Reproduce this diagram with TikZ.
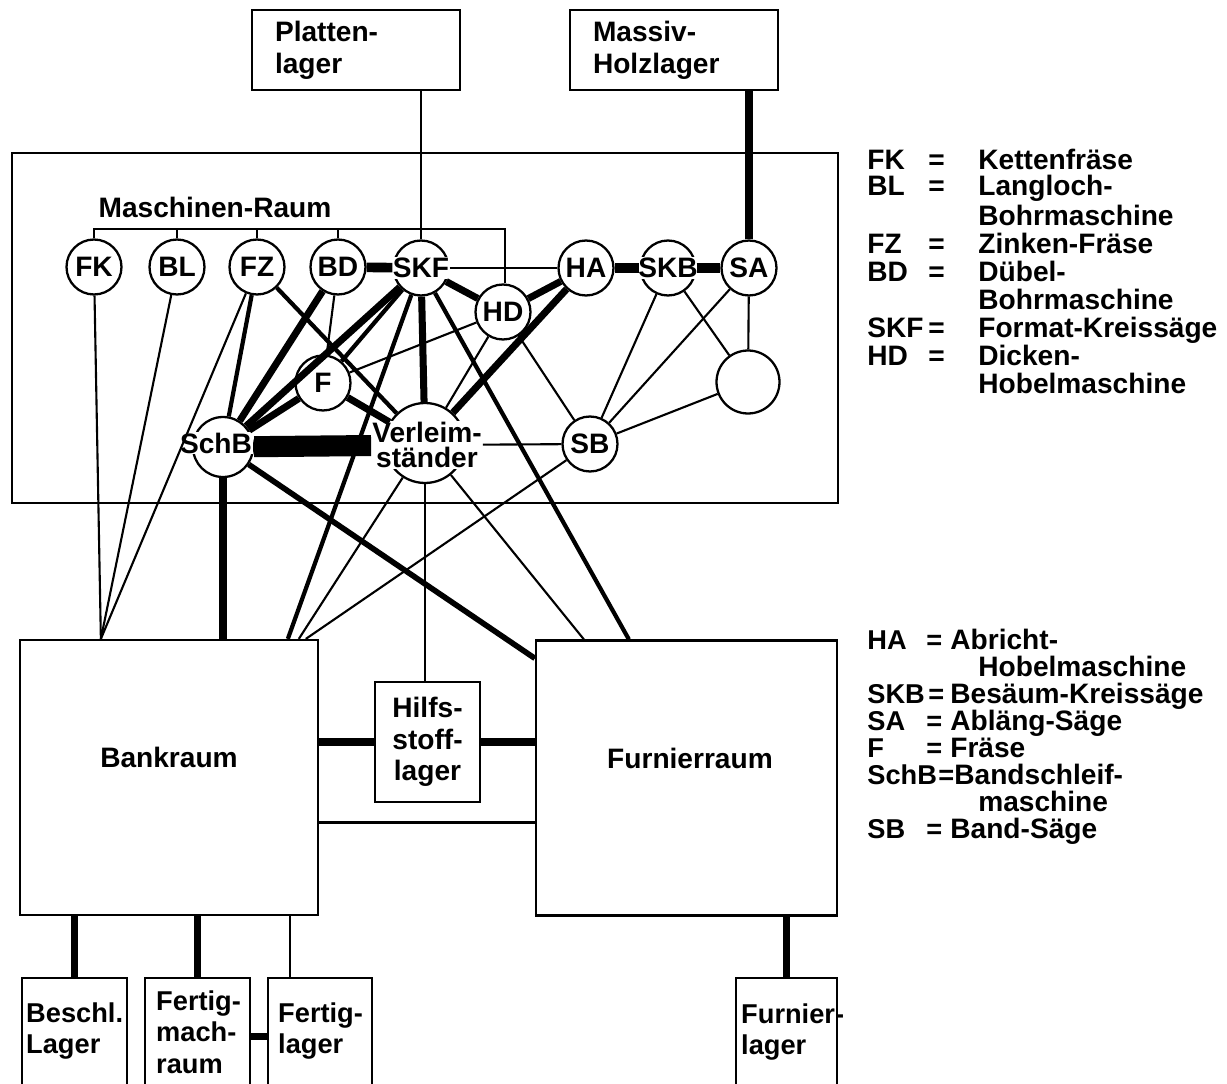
\documentclass[tikz,border=0pt]{standalone}
\usepackage{fontspec}
\setmainfont{Liberation Sans}

\tikzset{
  every node/.style={font=\fontsize{16}{18}\selectfont\bfseries},
  mach/.style={circle, draw, line width=1.3pt, fill=white, minimum size=1.1cm, inner sep=0pt},
  raum/.style={draw, line width=1.3pt, inner sep=0pt},
  tag/.style={fill=white, inner sep=0.5pt},
  boxtxt/.style={anchor=north west, align=left, inner ysep=0.5cm, font=\fontsize{15.5}{18}\selectfont\bfseries},
  lgd/.style={anchor=west, inner sep=0pt, text height=11pt, text depth=3pt},
  lgda/.style={lgd, font=\fontsize{15.5}{18}\selectfont\bfseries},
  dn/.style={line width=1.2pt},
  md/.style={line width=2.4pt},
  dk/.style={line width=4pt},
  balken/.style={line width=5.5pt},
}

\begin{document}
\begin{tikzpicture}[x=0.02cm, y=-0.02cm]
\useasboundingbox (0,0) rectangle (1227,1084);
%
\node[raum, minimum height=1.6cm, text width=3.24cm, inner xsep=0.46cm, align=left] (Platten) at (356,50) {Platten-\\lager};
\node[raum, minimum height=1.6cm, text width=3.24cm, inner xsep=0.46cm, align=left] (Massiv) at (674,50) {Massiv-\\Holzlager};
%
\node[raum, minimum width=16.52cm, minimum height=7cm] (MRaum) at (425,328) {};
\node (MRtitel) at (215,207) {Maschinen-Raum};
%
\node[mach] (FK) at (94,267) {FK};
\node[mach] (BL) at (177,267) {BL};
\node[mach] (FZ) at (257,267) {FZ};
\node[mach] (BD) at (338,267) {BD};
\node[mach, label={[tag]center:SKF}] (SKF) at (421,268) {};
\node[mach] (HA) at (586,268) {HA};
\node[mach, label={[tag]center:SKB}] (SKB) at (668,268) {};
\node[mach] (SA) at (749,268) {SA};
\node[mach] (HD) at (503,312) {HD};
\node[mach] (F) at (323,383) {F};
\node[mach] (SB) at (590,444) {SB};
\node[mach, minimum size=1.26cm] (leer) at (748,382) {};
\node[mach, minimum size=1.2cm] (SchB) at (223,447) {};
\node[tag] (SchBtxt) at (216,443) {SchB};
\node[mach, minimum size=1.6cm] (VL) at (425,443) {};
\node[tag, align=center, font=\fontsize{16}{14.7}\selectfont\bfseries] (VLtxt) at (427,445) {Verleim-\\ständer};
%
\node[raum, minimum width=5.96cm, minimum height=5.5cm, label={[yshift=0.4cm]center:Bankraum}] (Bankraum) at (169,777.5) {};
\node[raum, minimum width=6.02cm, minimum height=5.5cm, label={[yshift=0.4cm, xshift=0.07cm]center:Furnierraum}] (Furnierraum) at (686.5,778) {};
\node[raum, minimum width=2.1cm, minimum height=2.4cm, align=center] (Hilfs) at (427.5,742) {Hilfs-\\stoff-\\lager};
%
\node[raum, anchor=north, minimum width=2.1cm, minimum height=2.6cm, label={[boxtxt, inner xsep=0.1cm]north west:Beschl.\\Lager}] (Beschl) at (74.5,977) {};
\node[raum, anchor=north, minimum width=2.1cm, minimum height=2.6cm, label={[boxtxt, inner xsep=0.24cm, inner ysep=0.26cm]north west:Fertig-\\mach-\\raum}] (Fertigmach) at (197.5,977) {};
\node[raum, anchor=north, minimum width=2.08cm, minimum height=2.6cm, label={[boxtxt, inner xsep=0.22cm]north west:Fertig-\\lager}] (Fertiglager) at (320,977) {};
\node[raum, anchor=north, minimum width=2.02cm, minimum height=2.6cm, label={[boxtxt, inner xsep=0.12cm, inner ysep=0.52cm]north west:Furnier-\\lager}] (Furnierlager) at (786.5,977) {};
%
% Lager -> Maschinen
\draw[dn] (Platten.south -| SKF) -- (SKF);
\draw[dk] (Massiv.south -| SA) -- (SA);
\coordinate (klL) at (94,229);
\coordinate (klR) at (505,229);
\draw[dn] (FK) -- (klL) -- (klR) -- (klR |- HD.north);
\foreach \m in {BL,FZ,BD} \draw[dn] (\m) -- (\m |- klL);
%
\draw[balken] (BD) -- (SKF);
\draw[dn] (SKF) -- (HA);
\draw[balken] (HA) -- (SKB);
\draw[balken] (SKB) -- (SA);
\draw[dk] (SKF) -- (HD);
\draw[dk] (HA) -- (HD);
\draw[dk] (HA) -- (VL);
\draw[dk] (SKF) -- (VL);
\draw[dk] (SKF) -- (SchB);
\draw[md] (SKF) -- (F);
\draw[dk] (BD) -- (SchB);
\draw[dn] (BD) -- (F);
\draw[md] (FZ) -- (SchB);
\draw[md] (FZ) -- (VL);
\draw[dk] (F) -- (SchB);
\draw[dk] (F) -- (VL);
\draw[dn] (HD) -- (F);
\draw[dn] (HD) -- (VL);
\draw[dn] (HD) -- (SB);
\draw[dn] (VLtxt) -- (SB);
\draw[dn] (SKB) -- (SB);
\draw[dn] (SKB) -- (leer);
\draw[dn] (SA) -- (SB);
\draw[dn] (SA) -- (leer);
\draw[dn] (leer) -- (SB);
\draw[line width=12pt] (SchB) -- (VLtxt);
%
% Maschinen -> Raeume
\coordinate (bk1) at ([xshift=1.64cm]Bankraum.north west);
\coordinate (bk2) at ([xshift=5.38cm]Bankraum.north west);
\coordinate (bk3) at ([xshift=5.6cm]Bankraum.north west);
\coordinate (bk4) at ([xshift=5.74cm]Bankraum.north west);
\coordinate (fu1) at ([yshift=-0.38cm]Furnierraum.north west);
\coordinate (fu2) at ([xshift=0.98cm]Furnierraum.north west);
\coordinate (fu3) at ([xshift=1.88cm]Furnierraum.north west);
\draw[dn] (FK) -- (bk1);
\draw[dn] (BL) -- (bk1);
\draw[dn] (FZ) -- (bk1);
\draw[dk] (SchB) -- (SchB |- Bankraum.north);
\draw[md] (SKF) -- (bk2);
\draw[dn] (VL) -- (bk3);
\draw[dn] (SB) -- (bk4);
\draw[line width=3.2pt] (SchB) -- (fu1);
\draw[dn] (VL) -- (VL |- Hilfs.north);
\draw[dn] (VL) -- (fu2);
\draw[md] (SKF) -- (fu3);
%
\draw[dk] (Hilfs.west) -- (Hilfs.west -| Bankraum.east);
\draw[dk] (Hilfs.east) -- (Hilfs.east -| Furnierraum.west);
\coordinate (bkO) at ([yshift=-0.9cm]Bankraum.east);
\draw[dn] (bkO) -- (bkO -| Furnierraum.west);
%
\draw[dk] (Beschl) -- (Beschl |- Bankraum.south);
\draw[dk] (Fertigmach) -- (Fertigmach |- Bankraum.south);
\coordinate (flO) at ([xshift=0.46cm]Fertiglager.north west);
\draw[dn] (flO) -- (flO |- Bankraum.south);
\draw[dk] ([yshift=0.14cm]Fertigmach.east) -- ([yshift=0.14cm]Fertiglager.west);
\draw[dk] (Furnierlager) -- (Furnierlager |- Furnierraum.south);
%
% Legende
\foreach \y/\ab/\de in {162/FK/Kettenfräse, 188/BL/Langloch-, 246/FZ/Zinken-Fräse, 274/BD/Dübel-, 330/SKF/Format-Kreissäge, 358/HD/Dicken-} {
  \node[lgd] (lg\ab) at (867,\y) {\ab};
  \node[lgd] (gl\ab) at (928,\y) {=};
  \node[lgd] (lt\ab) at (978,\y) {\de};
}
\node[lgd] (ltBL2) at (978,218) {Bohrmaschine};
\node[lgd] (ltBD2) at (978,302) {Bohrmaschine};
\node[lgd] (ltHD2) at (978,386) {Hobelmaschine};
%
\foreach \y/\ab/\eq/\dx in {642/HA/926/950, 696/SKB/928/950, 723/SA/926/950, 750/F/926/950, 777/SchB/938/955, 831/SB/926/950} {
  \node[lgda] (lg\ab) at (867,\y) {\ab};
  \node[lgda] (gl\ab) at (\eq,\y) {=};
}
\node[lgd] (ltHA) at (950,642) {Abricht-};
\node[lgd] (ltHA2) at (978,669) {Hobelmaschine};
\node[lgd] (ltSKB) at (950,696) {Besäum-Kreissäge};
\node[lgd] (ltSA) at (950,723) {Abläng-Säge};
\node[lgd] (ltF) at (950,750) {Fräse};
\node[lgd] (ltSchB) at (954,777) {Bandschleif-};
\node[lgd] (ltSchB2) at (978,804) {maschine};
\node[lgd] (ltSB) at (950,831) {Band-Säge};
\end{tikzpicture}
\end{document}
